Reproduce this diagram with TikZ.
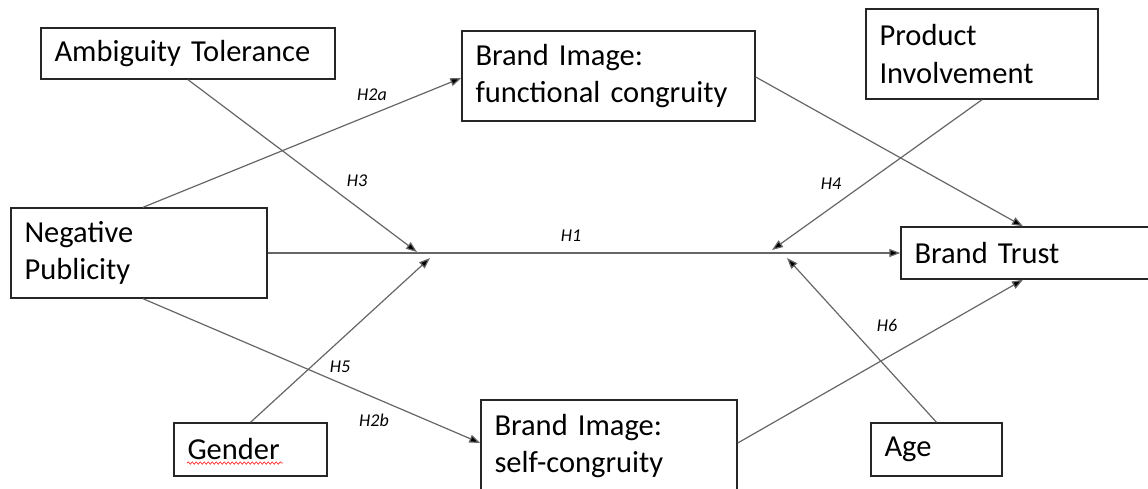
\documentclass[tikz,border=0pt]{standalone}
\usepackage{fontspec}
\setmainfont{Carlito}
\usetikzlibrary{arrows.meta,decorations.pathmorphing}
\newcommand{\bxfont}{\fontsize{30.5}{37.5}\selectfont}
\newcommand{\hlfont}{\fontsize{18}{20}\selectfont\itshape}
\tikzset{
  bx/.style={draw=black!85, line width=1.4pt, inner xsep=13.5pt, inner ysep=0pt, align=left, font=\bxfont},
  conn/.style={draw=black!60, line width=1.2pt, -{Triangle[length=11pt,width=8pt,fill=black]}},
  plain/.style={draw=black!60, line width=1.2pt},
  hl/.style={font=\hlfont, inner sep=0pt}
}
\begin{document}
\begin{tikzpicture}[x=1pt,y=-1pt]
\useasboundingbox (0,0) rectangle (1148,488);
\clip (0,0) rectangle (1148,488);
\fill[white] (0,0) rectangle (1148,488);
% boxes
\node[bx, text width=267pt, minimum height=51pt] (amb) at (188,53.5) {Ambiguity Tolerance};
\node[bx, text width=266pt, minimum height=90pt] (fun) at (608.5,76) {Brand Image:\\functional congruity};
\node[bx, text width=205pt, minimum height=90pt] (pin) at (982,54) {Product\\Involvement};
\node[bx, text width=229pt, minimum height=90pt] (np) at (139,253) {Negative\\Publicity};
\node[bx, text width=242pt, minimum height=52pt] (bt) at (1035.5,253) {Brand Trust};
\node[bx, text width=126pt, minimum height=53pt] (gen) at (250.5,449.5) {Gender};
\node[bx, text width=229pt, minimum height=92pt] (self) at (609,446) {Brand Image:\\self-congruity};
\node[bx, text width=104pt, minimum height=53pt] (age) at (936.5,449.5) {Age};
% spell-check underline
\coordinate (gu1) at (187,463);
\coordinate (gu2) at (283,463);
\draw[red!80, line width=0.7pt, decorate, decoration={snake, amplitude=1.2pt, segment length=4pt}] (gu1) -- (gu2);
% moderation points on H1
\coordinate (m3) at (417,252);
\coordinate (m5) at (430,258);
\coordinate (m4) at (772,250);
\coordinate (m6) at (787,258);
% connectors
\draw[conn] (np.east) -- (bt.west);
\draw[conn] ([xshift=4pt]np.north) -- ([yshift=-2pt]fun.west);
\draw[conn] ([xshift=4pt]np.south) -- ([yshift=3pt]self.west);
\draw[conn] (amb.south) -- (m3);
\draw[conn] (gen.north) -- (m5);
\draw[conn] (pin.south) -- (m4);
\draw[conn] (age.north) -- (m6);
\draw[conn] ([yshift=-1pt]fun.east) -- ([xshift=-12.5pt]bt.north);
\draw[conn] ([yshift=3pt]self.east) -- ([xshift=-12.5pt]bt.south);
% labels
\node[hl] (lh2a) at (372,95) {H2a};
\node[hl] (lh2b) at (374,420) {H2b};
\node[hl] (lh3) at (357,181) {H3};
\node[hl] (lh5) at (340,367) {H5};
\node[hl] (lh1) at (571,236) {H1};
\node[hl] (lh4) at (831,184) {H4};
\node[hl] (lh6) at (887,325) {H6};
\end{tikzpicture}
\end{document}
